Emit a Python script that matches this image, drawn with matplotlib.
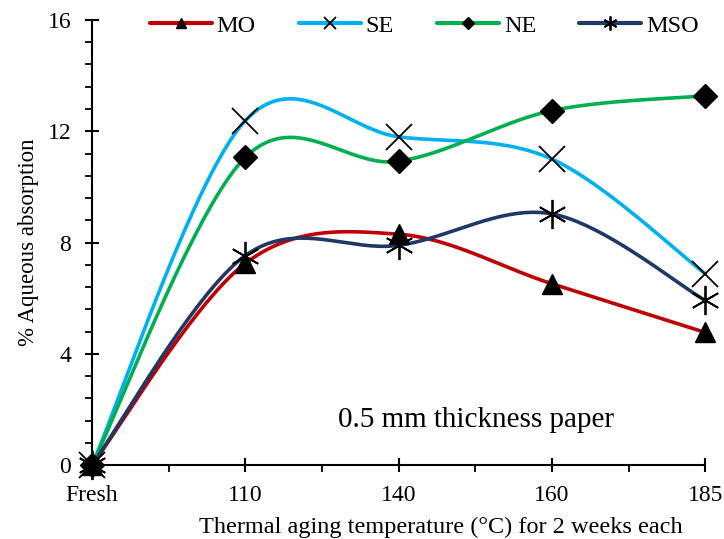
import numpy as np
import matplotlib.pyplot as plt
from matplotlib.ticker import MultipleLocator

plt.rcParams['font.family'] = ['Liberation Serif', 'DejaVu Serif']

categories = ['Fresh', '110', '140', '160', '185']
mo = [0, 7.25, 8.3, 6.52, 4.77]
se = [0, 12.38, 11.8, 11.0, 6.88]
ne = [0, 11.06, 10.92, 12.74, 13.27]
mso = [0, 7.53, 7.9, 9.03, 5.92]


def smooth(x, y, n=40):
    # Catmull-Rom curve drawn as cubic Bezier segments
    x = np.asarray(x, float)
    y = np.asarray(y, float)
    px = np.concatenate([[x[0]], x, [x[-1]]])
    py = np.concatenate([[y[0]], y, [y[-1]]])
    t = np.linspace(0, 1, n)
    xs, ys = [], []
    for i in range(len(x) - 1):
        p0 = np.array([px[i + 1], py[i + 1]])
        p3 = np.array([px[i + 2], py[i + 2]])
        p1 = p0 + (p3 - np.array([px[i], py[i]])) / 6
        p2 = p3 - (np.array([px[i + 3], py[i + 3]]) - p0) / 6
        b = ((1 - t) ** 3)[:, None] * p0 + (3 * (1 - t) ** 2 * t)[:, None] * p1 \
            + (3 * (1 - t) * t ** 2)[:, None] * p2 + (t ** 3)[:, None] * p3
        xs.append(b[:, 0])
        ys.append(b[:, 1])
    return np.concatenate(xs), np.concatenate(ys)


fig = plt.figure(figsize=(7.24, 5.39), dpi=100)
ax = fig.add_axes([0.127, 0.137, 0.847, 0.826])

xpos = np.arange(len(categories))
series = [
    ('MO', mo, '#C00000', '^', 14, 1),
    ('SE', se, '#00B0F0', 'x', 19, 1.3),
    ('NE', ne, '#00B050', 'D', 12, 1),
    ('MSO', mso, '#1F3864', (6, 2, 0), 21, 1.3),
]

handles = []
for name, vals, color, marker, ms, mew in series:
    sx, sy = smooth(xpos, vals)
    ax.plot(sx, sy, color=color, lw=2.6, solid_capstyle='round', clip_on=False, zorder=2)
    ax.plot(xpos, vals, ls='none', marker=marker, ms=ms, color='black',
            mew=mew, clip_on=False, zorder=3)
    h, = ax.plot([], [], color=color, lw=3, solid_capstyle='round',
                 marker=marker, ms=ms * 0.48, mfc='black', mec='black', mew=mew)
    handles.append(h)

ax.set_xlim(0, 4)
ax.set_ylim(0, 16)
ax.set_xticks(xpos)
ax.set_xticklabels(categories)
ax.xaxis.set_minor_locator(MultipleLocator(0.5))
ax.yaxis.set_major_locator(MultipleLocator(4))
ax.yaxis.set_minor_locator(MultipleLocator(0.8))

for side in ['top', 'right']:
    ax.spines[side].set_visible(False)
for side in ['left', 'bottom']:
    ax.spines[side].set_linewidth(1.5)

ax.tick_params(which='major', direction='inout', length=10, width=1.5,
               labelsize=17, colors='black')
ax.tick_params(which='minor', direction='out', length=5, width=1.3)
ax.tick_params(axis='x', which='major', pad=9)
ax.tick_params(axis='y', which='major', pad=10)

ax.set_xlabel('Thermal aging temperature (°C) for 2 weeks each', fontsize=17.5,
              va='center')
ax.xaxis.set_label_coords(0.569, -0.139)
ax.set_ylabel('% Aqueous absorption', fontsize=16.5, va='center')
ax.yaxis.set_label_coords(-0.104, 0.5)

ax.text(0.626, 0.101, '0.5 mm thickness paper', transform=ax.transAxes,
        ha='center', va='center', fontsize=21)

fig.legend(handles=handles, labels=[s[0] for s in series], loc='center',
           bbox_to_anchor=(0.586, 0.952), ncol=4, frameon=False,
           handlelength=2.55, handletextpad=0.2, columnspacing=1.77,
           fontsize=17.5, borderpad=0, borderaxespad=0)

fig.savefig('out.png', dpi=100)
